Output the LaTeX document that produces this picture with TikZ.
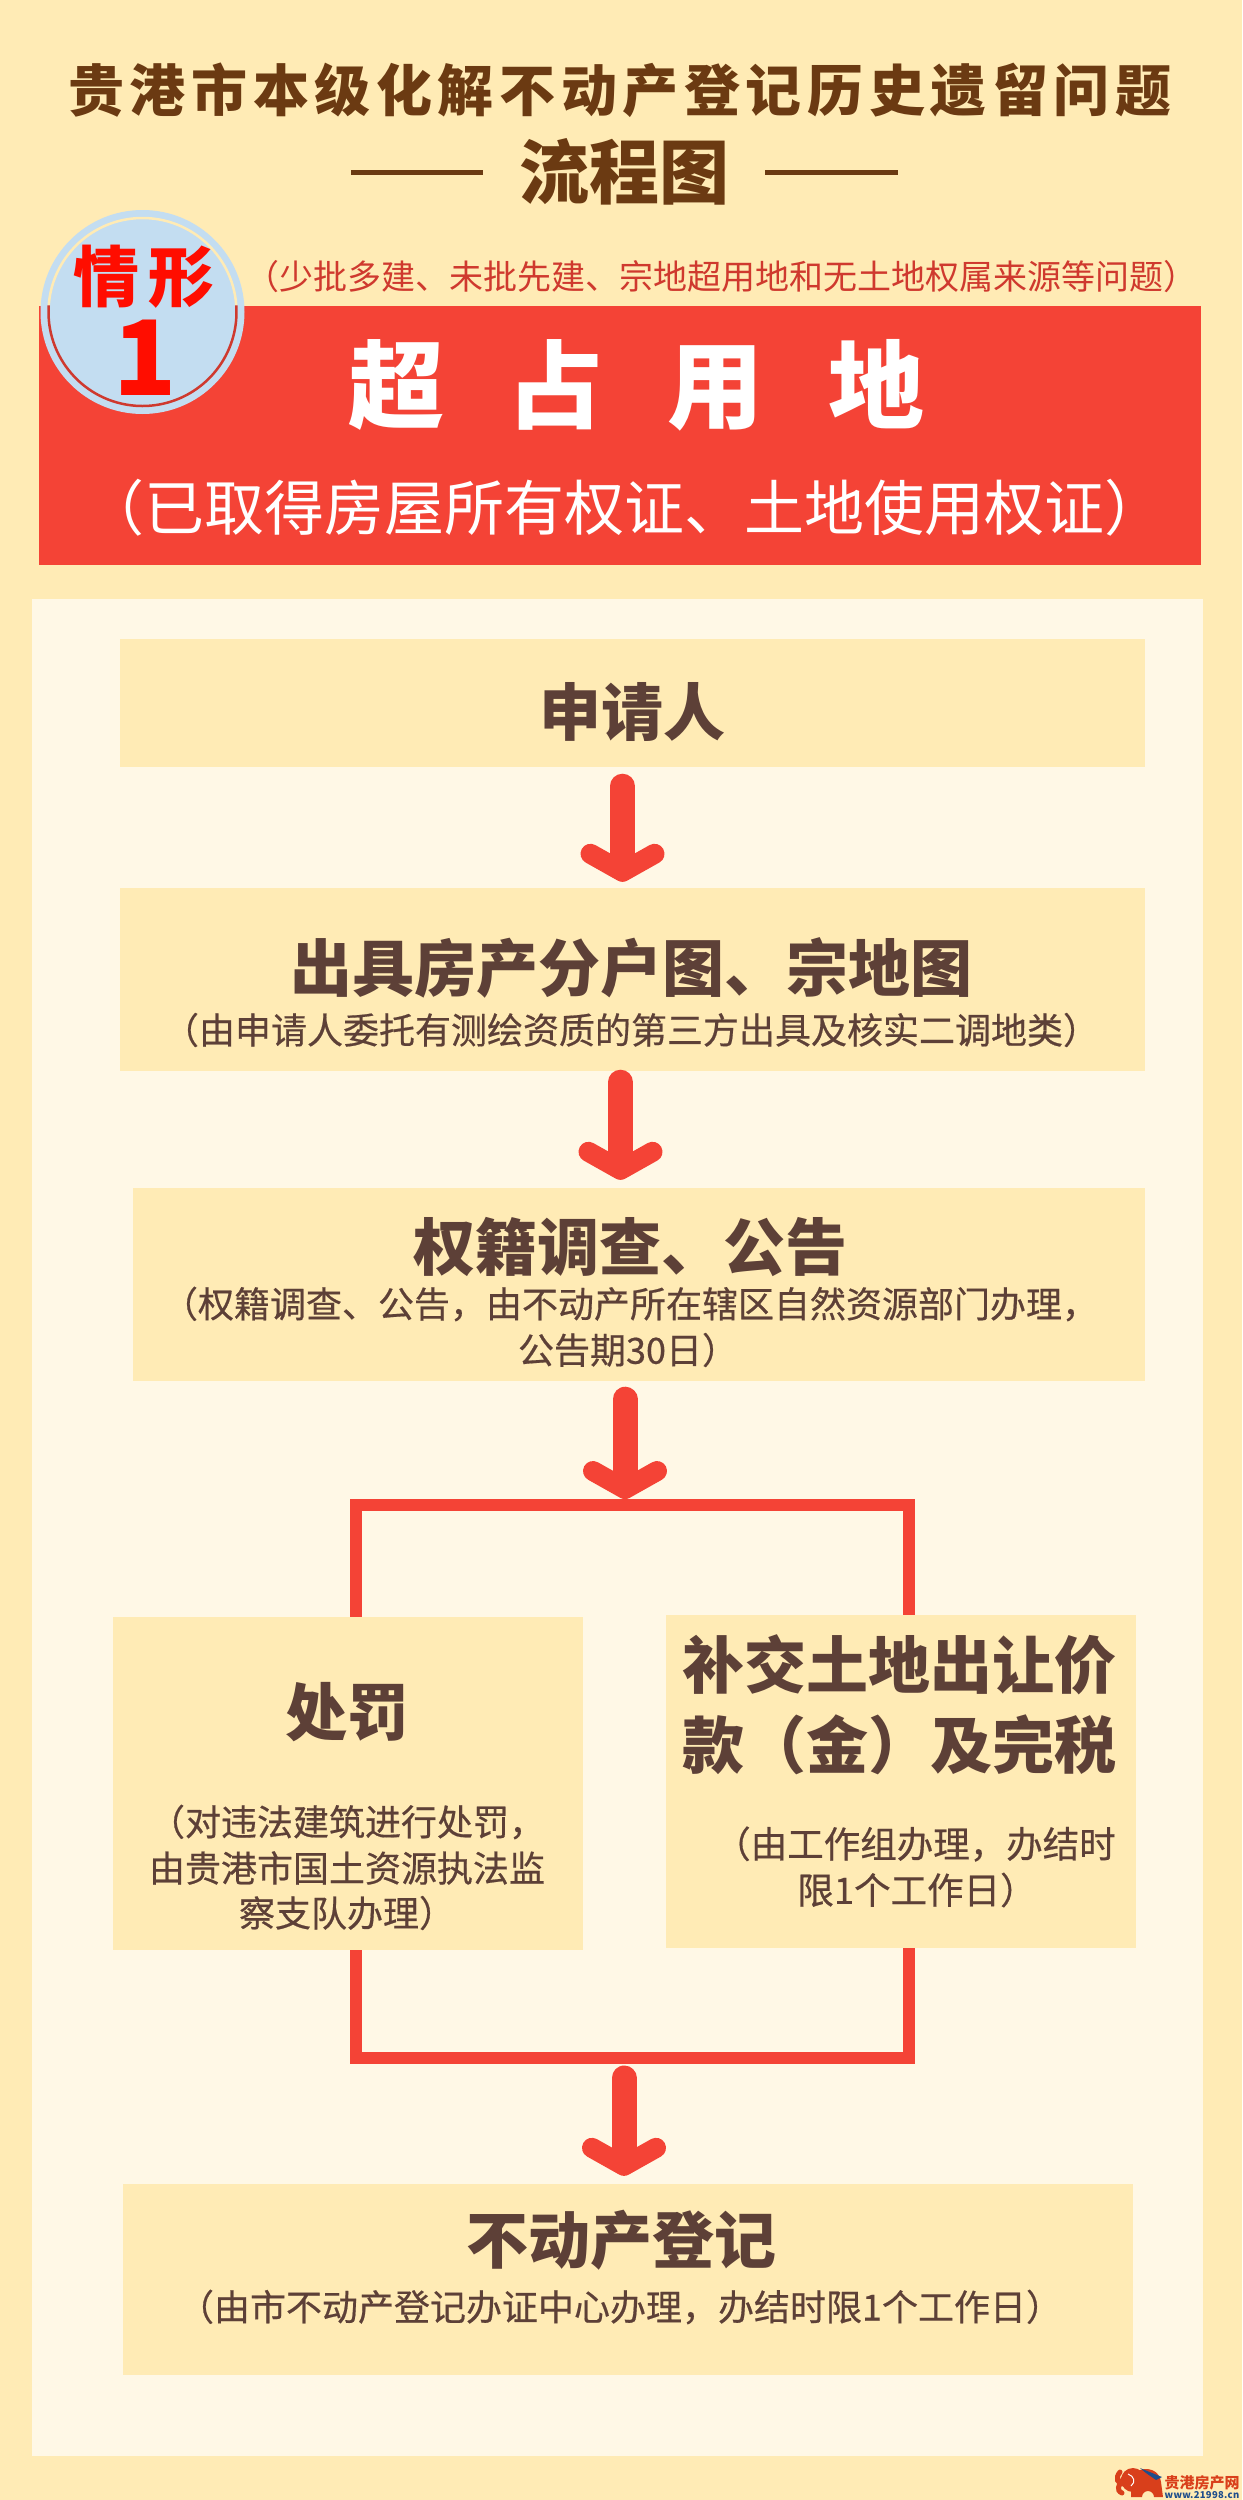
\documentclass[tikz,border=0pt]{standalone}
\usepackage{fontspec}
\usepackage{tikz}
\usetikzlibrary{arrows.meta}
\setmainfont{Noto Sans CJK SC}
\newfontfamily\notefont[FakeBold=0.5]{Noto Sans CJK SC}
\newcommand{\fsize}[1]{\fontsize{#1}{#1}\selectfont}
\definecolor{pagebg}{HTML}{FFEBB5}
\definecolor{panelbg}{HTML}{FFF8E6}
\definecolor{flowred}{HTML}{F44336}
\definecolor{titlebrown}{HTML}{6B3A12}
\definecolor{textbrown}{HTML}{5D4037}
\definecolor{badgeblue}{HTML}{C3DDF1}
\definecolor{logored}{HTML}{D93F1B}
\definecolor{logoblue}{HTML}{1F4E8C}
\tikzset{
  flowbox/.style={rectangle, fill=pagebg, inner sep=0},
  headtext/.style={inner sep=0, text=textbrown, font=\bfseries\fsize{62}},
  notetext/.style={inner sep=0, text=textbrown, align=center, font=\notefont\fsize{36}},
  flowarrow/.style={line width=25, draw=flowred, line cap=round, -{Straight Barb[round, length=18, width=64, line width=20]}},
  branchline/.style={line width=12, draw=flowred}
}

\begin{document}
\begin{tikzpicture}[x=1pt, y=1pt]

  % Page and panel backgrounds
  \useasboundingbox (0,0) rectangle (1242,-2500);
  \fill[pagebg] (0,0) rectangle (1242,-2500);
  \fill[panelbg] (32,-599) rectangle (1203,-2456);

  % Title
  \node (title) [inner sep=0, text=titlebrown, font=\bfseries\fsize{56}] at (620,-90) {\addfontfeature{LetterSpace=10}贵港市本级化解不动产登记历史遗留问题};
  \node (subtitle) [inner sep=0, text=titlebrown, font=\bfseries\fsize{70}] at (624,-172) {流程图};
  \fill[titlebrown] (351,-169.5) rectangle (483,-174.5);
  \fill[titlebrown] (765,-169.5) rectangle (898,-174.5);

  % Red band with its case name
  \node (band) [rectangle, fill=flowred, inner sep=0, minimum width=1162, minimum height=259] at (620,-435.5) {};
  \node (scope) [inner sep=0, text=flowred!85!black, font=\fsize{34}] at (721,-277) {（少批多建、未批先建、宗地超用地和无土地权属来源等问题）};
  \node (casename) [inner sep=0, text=white, font=\bfseries\fsize{96}] at (636,-385) {超\hspace{64pt}占\hspace{64pt}用\hspace{64pt}地};
  \node (casenote) [inner sep=0, text=white, font=\fsize{60}] at (624,-508) {（已取得房屋所有权证、土地使用权证）};

  % Round badge
  \node (badge) [circle, fill=badgeblue, inner sep=0, minimum size=204] at (142.5,-312) {};
  \draw[pagebg, line width=2.5] ([shift={(4:94)}]badge.center) arc (4:176:94);
  \draw[flowred!85!black, line width=2.5] ([shift={(176:94)}]badge.center) arc (176:364:94);
  \node (casetext) [inner sep=0, text=red!90!orange, font=\bfseries\fsize{66}] at (144,-277) {情\hspace{10pt}形};
  \node (casenum) [inner sep=0, text=red!90!orange, font=\bfseries\fsize{104}] at (145,-358) {1};

  % Flow boxes
  \node (apply) [flowbox, minimum width=1025, minimum height=128] at (632.5,-703) {};
  \node (plan) [flowbox, minimum width=1025, minimum height=183] at (632.5,-979.5) {};
  \node (survey) [flowbox, minimum width=1012, minimum height=193] at (639,-1284.5) {};
  \node (penalty) [flowbox, minimum width=470, minimum height=333] at (348,-1783.5) {};
  \node (payment) [flowbox, minimum width=470, minimum height=333] at (901,-1781.5) {};
  \node (register) [flowbox, minimum width=1010, minimum height=191] at (628,-2279.5) {};

  % Box texts
  \node (applyhead) [headtext] at (632,-712) {申请人};
  \node (planhead) [headtext] at (631,-968) {出具房产分户图、宗地图};
  \node (plannote) [notetext] at (631,-1030) {（由申请人委托有测绘资质的第三方出具及核实二调地类）};
  \node (surveyhead) [headtext] at (630,-1247) {权籍调查、公告};
  \node (surveynote1) [notetext] at (630,-1304) {（权籍调查、公告，由不动产所在辖区自然资源部门办理，};
  \node (surveynote2) [notetext] at (628,-1350) {公告期30日）};
  \node (penaltyhead) [headtext] at (347,-1712) {处罚};
  \node (penaltynote1) [notetext] at (347,-1822) {（对违法建筑进行处罚，};
  \node (penaltynote2) [notetext] at (347,-1868) {由贵港市国土资源执法监};
  \node (penaltynote3) [notetext] at (347,-1913) {察支队办理）};
  \node (payhead1) [headtext] at (899,-1665) {补交土地出让价};
  \node (payhead2) [headtext] at (899,-1745) {款（金）及完税};
  \node (paynote1) [notetext, font=\notefont\fsize{36.5}] at (915,-1844) {（由工作组办理，办结时};
  \node (paynote2) [notetext, font=\notefont\fsize{36.5}] at (917,-1890) {限1个工作日）};
  \node (reghead) [headtext] at (621,-2240) {不动产登记};
  \node (regnote) [notetext] at (620,-2307) {（由市不动产登记办证中心办理，办结时限1个工作日）};

  % Branch corners and joints
  \coordinate (topleft) at (356,-1505);
  \coordinate (topright) at (909,-1505);
  \coordinate (topjoin) at (625,-1499);
  \coordinate (botleft) at (356,-2058);
  \coordinate (botright) at (909,-2058);
  \coordinate (botjoin) at (624,-2064);

  % Arrows between the steps
  \draw[flowarrow] ([xshift=-10, yshift=-19]apply.south) -- ([xshift=-10, yshift=6]plan.north);
  \draw[flowarrow] ([xshift=-12, yshift=-11]plan.south) -- ([xshift=-18.5, yshift=8]survey.north);
  \draw[flowarrow] ([xshift=-14, yshift=-18]survey.south) -- (topjoin);
  \draw[flowarrow] ([yshift=-14]botjoin) -- ([xshift=-4, yshift=8]register.north);

  % Branch lines
  \draw[branchline] (penalty.north -| topleft) -- (topleft) -- (topright) -- (payment.north -| topright);
  \draw[branchline] (penalty.south -| botleft) -- (botleft) -- (botright) -- (payment.south -| botright);

  % Site mark in the corner
  \fill[logored] (1131,-2497) -- (1131,-2482) arc (180:0:15 and 13) -- (1163,-2497) -- (1154,-2497) arc (0:180:6) -- (1142,-2497) -- cycle;
  \fill[logored] (1133,-2480) circle (12);
  \draw[logored, line width=5, line cap=round] (1124,-2484) .. controls (1117,-2484) and (1115,-2478) .. (1120,-2472);
  \draw[logored, line width=5, line cap=round] (1124,-2478) .. controls (1118,-2486) and (1116,-2490) .. (1122,-2493);
  \draw[white, line width=1] (1128,-2474) .. controls (1134,-2476) and (1136,-2482) .. (1131,-2486);
  \fill[logoblue] (1140,-2468) -- (1162,-2477) -- (1156,-2480) -- (1146,-2473) -- cycle;
  \node (logoname) [inner sep=0, text=logored, font=\bfseries\fsize{15}] at (1202,-2483) {贵港房产网};
  \node (logourl) [inner sep=0, text=logoblue, font=\bfseries\fsize{9.5}] at (1202,-2495) {\addfontfeature{LetterSpace=3}www.21998.cn};

\end{tikzpicture}
\end{document}
